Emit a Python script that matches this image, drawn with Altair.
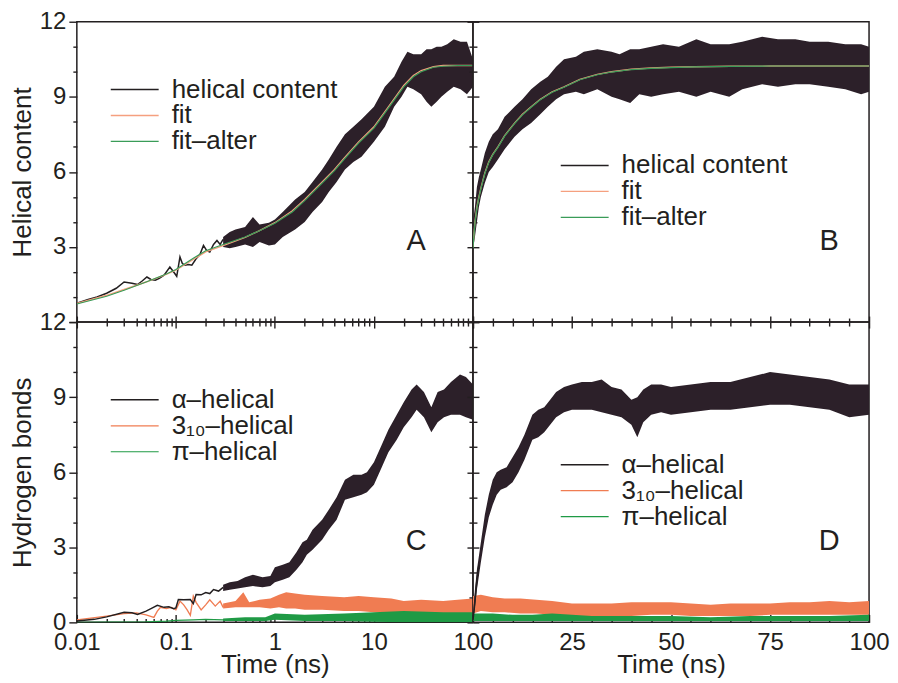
import altair as alt
import pandas as pd

# ---------------- data ----------------
# Panel A (log time) : helical content
A_line_t = [0.01, 0.013, 0.016, 0.02, 0.025, 0.03, 0.036, 0.041, 0.046, 0.051, 0.056, 0.062, 0.068,
            0.076, 0.087, 0.095, 0.102, 0.11, 0.116, 0.123, 0.135, 0.145, 0.16, 0.175, 0.19, 0.205,
            0.22, 0.24, 0.26, 0.28, 0.3]
A_line_v = [0.75, 0.9, 1.0, 1.15, 1.35, 1.6, 1.55, 1.5, 1.65, 1.8, 1.7, 1.67, 1.75,
            1.87, 2.2, 2.0, 1.83, 2.6, 2.35, 2.27, 2.3, 2.27, 2.53, 2.7, 3.06, 2.85,
            2.8, 3.1, 3.26, 3.1, 3.3]
A_band_t = [0.3, 0.35, 0.4, 0.5, 0.6, 0.7, 0.87, 1.0, 1.2, 1.6, 2.0, 2.4, 3.0, 3.5, 4.2, 5.1, 6.2,
            7.5, 10, 12.9, 16, 19, 21.8, 25, 30, 34, 38, 43, 48, 55, 64, 75, 87, 100]
A_band_lo = [3.0, 2.95, 3.0, 3.1, 3.0, 3.2, 3.06, 3.1, 3.4, 3.7, 4.0, 4.4, 4.8, 5.2, 5.6, 6.1, 6.4,
             6.6, 7.2, 7.8, 8.6, 9.0, 9.4, 9.3, 9.1, 8.8, 8.6, 8.8, 9.0, 9.2, 9.4, 9.3, 9.1, 9.4]
A_band_hi = [3.4, 3.6, 3.7, 3.8, 4.2, 3.9, 3.97, 4.1, 4.4, 4.9, 5.2, 5.6, 6.1, 6.5, 7.0, 7.5, 7.8,
             8.1, 8.6, 9.4, 9.8, 10.4, 10.8, 10.7, 10.7, 10.9, 10.9, 11.0, 11.0, 11.1, 11.3, 11.2, 11.2, 10.5]
A_fit_t = [0.01, 0.02, 0.03, 0.05, 0.08, 0.1, 0.15, 0.2, 0.3, 0.5, 0.7, 1, 1.5, 2, 3, 4, 5, 7, 10,
           14, 20, 25, 30, 40, 50, 70, 100]
A_fit = [0.75, 1.07, 1.3, 1.6, 1.9, 2.07, 2.5, 2.8, 3.05, 3.38, 3.65, 3.97, 4.45, 4.9, 5.6, 6.1, 6.55,
         7.2, 7.8, 8.6, 9.45, 9.85, 10.05, 10.2, 10.25, 10.25, 10.25]
A_fit_alter = [0.72, 1.03, 1.27, 1.6, 1.92, 2.1, 2.55, 2.85, 3.1, 3.4, 3.65, 3.95, 4.4, 4.85, 5.55,
               6.05, 6.5, 7.15, 7.75, 8.55, 9.4, 9.8, 10.0, 10.18, 10.22, 10.25, 10.25]

# Panel B (linear time) : helical content
B_band_t = [0, 0.5, 1, 1.5, 2, 3, 4, 5, 6.3, 8, 10.5, 12.5, 14.7, 17, 18.9, 21, 23, 26, 28, 31.4, 35,
            37, 39.7, 42, 45, 48, 52, 56.4, 60, 64.7, 68, 73, 77, 81.4, 85, 89.7, 94, 98, 100]
B_band_lo = [2.9, 3.4, 4.0, 4.6, 5.0, 5.56, 6.0, 6.2, 6.5, 6.9, 7.4, 7.7, 7.95, 8.3, 8.6, 8.9, 9.1,
             9.2, 9.1, 9.3, 9.0, 8.9, 8.75, 9.1, 9.0, 9.1, 9.2, 9.0, 9.2, 9.0, 9.3, 9.5, 9.4, 9.5,
             9.5, 9.4, 9.3, 9.1, 9.2]
B_band_hi = [4.0, 4.6, 5.4, 5.8, 6.1, 6.75, 7.2, 7.5, 7.7, 8.2, 8.6, 8.9, 9.3, 9.6, 9.8, 10.2, 10.5,
             10.6, 10.8, 10.9, 10.8, 10.7, 10.9, 10.9, 11.0, 11.1, 11.0, 11.3, 11.1, 11.1, 11.2, 11.4,
             11.3, 11.3, 11.2, 11.2, 11.1, 11.1, 11.0]
B_fit_t = [0, 0.25, 0.5, 1, 1.5, 2, 3, 4, 5, 6.3, 8, 10.5, 12.5, 14.7, 17, 20, 23, 27, 31.4, 35, 40,
           45, 50, 56, 65, 75, 100]
B_fit = [3.0, 3.5, 4.0, 4.6, 5.0, 5.35, 5.96, 6.4, 6.7, 7.0, 7.45, 7.95, 8.3, 8.6, 8.9, 9.2, 9.4,
         9.7, 9.9, 10.0, 10.1, 10.15, 10.18, 10.2, 10.22, 10.23, 10.23]
B_fit_alter = [2.95, 3.45, 3.95, 4.55, 4.97, 5.32, 5.93, 6.38, 6.68, 6.98, 7.43, 7.93, 8.28, 8.58,
               8.88, 9.18, 9.38, 9.68, 9.88, 9.99, 10.09, 10.14, 10.17, 10.2, 10.22, 10.23, 10.23]

# Panel C (log time) : hydrogen bonds
C_a_line_t = [0.01, 0.015, 0.02, 0.03, 0.036, 0.041, 0.05, 0.058, 0.065, 0.076, 0.085, 0.095, 0.1,
              0.106, 0.12, 0.14, 0.15, 0.16, 0.18, 0.2, 0.22, 0.24, 0.27, 0.3]
C_a_line_v = [0.05, 0.12, 0.22, 0.4, 0.38, 0.32, 0.45, 0.58, 0.68, 0.6, 0.62, 0.55, 0.58,
              0.91, 0.9, 0.91, 0.75, 1.11, 1.1, 1.19, 1.15, 1.31, 1.25, 1.4]
C_a_band_t = [0.3, 0.35, 0.42, 0.5, 0.6, 0.75, 0.9, 1.0, 1.2, 1.4, 1.65, 1.9, 2.1, 2.4, 3.0, 3.5, 4.2,
              5.1, 6.2, 7.5, 8.5, 10, 12, 14, 17, 20, 24, 27, 32, 38, 44, 51, 60, 74, 85, 100]
C_a_band_lo = [1.25, 1.3, 1.35, 1.4, 1.45, 1.4, 1.45, 1.6, 1.7, 1.8, 2.1, 2.4, 2.7, 2.9, 3.3, 3.7, 4.1,
               4.9, 5.0, 5.1, 5.2, 5.5, 6.2, 6.8, 7.3, 7.8, 8.2, 8.5, 8.2, 7.6, 8.0, 8.2, 8.3, 8.3, 8.2, 8.1]
C_a_band_hi = [1.5, 1.6, 1.65, 1.8, 1.9, 1.8, 1.85, 2.2, 2.3, 2.4, 2.8, 3.2, 3.3, 3.7, 4.1, 4.5, 5.0,
               5.7, 5.9, 5.9, 6.0, 6.4, 7.1, 7.7, 8.3, 8.8, 9.3, 9.5, 9.2, 8.6, 9.2, 9.3, 9.6, 9.9, 9.8, 9.5]
C_310_line_t = [0.01, 0.02, 0.03, 0.04, 0.05, 0.06, 0.065, 0.07, 0.08, 0.09, 0.1, 0.11, 0.12, 0.13,
                0.14, 0.15, 0.16, 0.18, 0.2, 0.22, 0.25, 0.28, 0.3]
C_310_line_v = [0.1, 0.25, 0.35, 0.38, 0.3, 0.2, 0.45, 0.6, 0.55, 0.6, 0.5, 0.85, 0.7, 0.5,
                0.28, 1.05, 0.8, 0.5, 0.7, 0.9, 0.65, 0.85, 0.6]
C_310_band_t = [0.3, 0.4, 0.48, 0.55, 0.7, 0.9, 1.1, 1.3, 1.6, 2, 3, 5, 7, 10, 15, 20, 30, 50, 70, 100]
C_310_band_lo = [0.55, 0.6, 0.6, 0.6, 0.6, 0.55, 0.6, 0.55, 0.55, 0.5, 0.5, 0.45, 0.45, 0.4, 0.35,
                 0.3, 0.3, 0.3, 0.3, 0.3]
C_310_band_hi = [0.75, 0.85, 1.2, 0.8, 0.9, 0.95, 1.1, 1.2, 1.15, 1.1, 1.05, 1.0, 1.05, 1.0, 0.95,
                 0.85, 0.9, 0.85, 0.9, 0.95]
C_pi_line_t = [0.01, 0.05, 0.08, 0.1, 0.15, 0.2, 0.3]
C_pi_line_v = [0.0, 0.02, 0.05, 0.08, 0.1, 0.12, 0.1]
C_pi_band_t = [0.3, 0.5, 0.8, 1, 2, 5, 10, 20, 50, 100]
C_pi_band_lo = [0.05, 0.05, 0.05, 0.1, 0.05, 0.05, 0.02, 0.0, 0.0, 0.0]
C_pi_band_hi = [0.15, 0.2, 0.2, 0.35, 0.3, 0.35, 0.4, 0.45, 0.4, 0.4]

# Panel D (linear time) : hydrogen bonds
D_a_line_t = [0, 0.3, 0.6, 1.0, 1.5]
D_a_line_v = [0.08, 0.5, 1.0, 1.7, 2.3]
D_a_band_t = [0, 0.5, 1, 2, 3, 4, 5, 6, 7, 8.5, 10, 11.5, 13, 14, 15, 16.5, 18, 19.5, 21, 23, 25, 27.5,
              30, 32.5, 35, 37.5, 40, 41.5, 43, 45, 47.5, 50, 55, 60, 65, 70, 75, 80, 85, 90, 95, 100]
D_a_band_lo = [0.05, 0.6, 1.3, 2.4, 3.4, 4.2, 4.7, 5.1, 5.3, 5.4, 5.6, 6.0, 6.5, 6.9, 7.3, 7.4, 7.6,
               7.9, 8.2, 8.4, 8.5, 8.5, 8.5, 8.4, 8.3, 8.2, 7.9, 7.4, 8.0, 8.3, 8.4, 8.3, 8.4, 8.5,
               8.5, 8.6, 8.7, 8.7, 8.6, 8.5, 8.2, 8.3]
D_a_band_hi = [0.3, 1.3, 2.1, 3.2, 4.3, 5.1, 5.7, 6.0, 6.1, 6.2, 6.6, 7.0, 7.5, 7.9, 8.3, 8.5, 8.6,
               8.9, 9.2, 9.4, 9.5, 9.6, 9.6, 9.7, 9.4, 9.3, 8.9, 9.0, 9.3, 9.5, 9.5, 9.4, 9.5, 9.6,
               9.6, 9.8, 10.0, 9.9, 9.8, 9.7, 9.5, 9.5]
D_310_band_t = [0, 2, 5, 8, 12, 16, 20, 25, 30, 35, 40, 45, 50, 55, 60, 65, 70, 75, 80, 85, 90, 95, 100]
D_310_band_lo = [0.35, 0.45, 0.4, 0.4, 0.35, 0.35, 0.3, 0.25, 0.25, 0.25, 0.25, 0.3, 0.3, 0.25, 0.25,
                 0.25, 0.25, 0.3, 0.3, 0.3, 0.3, 0.3, 0.3]
D_310_band_hi = [1.05, 1.1, 1.0, 0.95, 0.95, 0.9, 0.85, 0.75, 0.75, 0.75, 0.8, 0.8, 0.8, 0.75, 0.7,
                 0.75, 0.75, 0.75, 0.8, 0.8, 0.85, 0.8, 0.85]
D_pi_band_t = [0, 5, 10, 15, 20, 30, 40, 50, 60, 70, 80, 90, 100]
D_pi_band_lo = [0.05, 0.05, 0.05, 0.05, 0.05, 0.05, 0.05, 0.05, 0.05, 0.05, 0.05, 0.05, 0.05]
D_pi_band_hi = [0.35, 0.35, 0.3, 0.3, 0.35, 0.25, 0.25, 0.25, 0.2, 0.25, 0.25, 0.25, 0.3]

HC_SERIES = ["helical content", "fit", "fit\u2013alter"]
HB_SERIES = ["\u03b1\u2013helical", "3\u2081\u2080\u2013helical", "\u03c0\u2013helical"]

LOG_TICKS = [0.01, 0.02, 0.03, 0.04, 0.05, 0.06, 0.07, 0.08, 0.09,
             0.1, 0.2, 0.3, 0.4, 0.5, 0.6, 0.7, 0.8, 0.9,
             1, 2, 3, 4, 5, 6, 7, 8, 9,
             10, 20, 30, 40, 50, 60, 70, 80, 90, 100]
LIN_TICKS = [0, 5, 10, 15, 20, 25, 30, 35, 40, 45, 50, 55, 60, 65, 70, 75, 80, 85, 90, 95, 100]
Y_TICKS = [0, 1, 2, 3, 4, 5, 6, 7, 8, 9, 10, 11, 12]

# ---------------- styling ----------------
FONT = "Liberation Sans"
INK = "#231f20"
BAND_DARK = "#2c2029"
ORANGE = "#f07c52"
GREEN = "#1f9a45"
FIT_ORANGE = "#f5a07f"
FIT_GREEN = "#3a9c58"

LOG_MAJOR = "indexof([0.01,0.1,1,10,100], datum.value) >= 0"
LIN_MAJOR = "datum.value % 25 == 0"
Y_MAJOR = "datum.value % 3 == 0"

YS = alt.Scale(domain=[0, 12], nice=False, zero=False)
XS_LOG = alt.Scale(type="log", domain=[0.01, 100], nice=False)
XS_LIN = alt.Scale(domain=[0, 100], nice=False, zero=False)


def tsize(test, major, minor):
    return {"condition": {"test": test, "value": major}, "value": minor}


def make_axis(orient, values, test, major, minor, labels=False, label_expr=None,
              title=None, label_pad=3, fmt=None, title_pad=4):
    kw = dict(orient=orient, values=values, domain=False, grid=False,
              tickSize=tsize(test, major, minor), tickColor=INK, tickWidth=1.4,
              labels=labels, title=title)
    if labels:
        kw.update(labelExpr=label_expr, labelFont=FONT, labelFontSize=24, labelColor=INK,
                  labelFlush=False, labelOverlap=False, labelPadding=label_pad)
        if fmt:
            kw["format"] = fmt
    if title:
        kw.update(titleFont=FONT, titleFontSize=26, titleFontWeight="normal",
                  titleColor=INK, titlePadding=title_pad)
    return alt.Axis(**kw)


def band(t, lo, hi, color, xs, xaxis=None, yaxis=None):
    df = pd.DataFrame({"t": t, "lo": lo, "hi": hi})
    return alt.Chart(df).mark_area(color=color, opacity=1, clip=True).encode(
        x=alt.X("t:Q", scale=xs, axis=xaxis),
        y=alt.Y("lo:Q", scale=YS, axis=yaxis),
        y2="hi:Q",
    )


def lines(parts, domain, rng, widths, xs, legend_xy, xaxis=None, yaxis=None):
    rows = []
    for name, t, v in parts:
        for a, b in zip(t, v):
            rows.append({"t": a, "v": b, "series": name})
    df = pd.DataFrame(rows)
    leg = alt.Legend(orient="none", legendX=legend_xy[0], legendY=legend_xy[1], title=None,
                     symbolType="M-2,0H2", symbolSize=576, symbolStrokeWidth=1.8,
                     labelFont=FONT, labelFontSize=26, labelColor=INK, labelOffset=24,
                     rowPadding=0, padding=0, labelLimit=400)
    return alt.Chart(df).mark_line(clip=True).encode(
        x=alt.X("t:Q", scale=xs, axis=xaxis),
        y=alt.Y("v:Q", scale=YS, axis=yaxis),
        color=alt.Color("series:N", scale=alt.Scale(domain=domain, range=rng), legend=leg),
        strokeWidth=alt.StrokeWidth("series:N", scale=alt.Scale(domain=domain, range=widths),
                                    legend=None),
        detail="series:N",
    )


def letter(ch, xy):
    return alt.Chart(pd.DataFrame({"lab": [ch]})).mark_text(
        font=FONT, fontSize=29, color=INK, align="center", baseline="middle"
    ).encode(text="lab:N", x=alt.value(xy[0]), y=alt.value(xy[1]))


W_A, W_B, H = 397, 397, 301

# ---------------- Panel A ----------------
A_x_bottom = make_axis("bottom", LOG_TICKS, LOG_MAJOR, 6, 4)
A_y_left = make_axis("left", Y_TICKS, Y_MAJOR, 8, 4, labels=True,
                     label_expr="datum.value % 3 == 0 && datum.value > 0 ? datum.label : ''",
                     title="Helical content")
A_y_right = make_axis("right", Y_TICKS, Y_MAJOR, 6, 4)
panel_A = alt.layer(
    band(A_band_t, A_band_lo, A_band_hi, BAND_DARK, XS_LOG, A_x_bottom, A_y_left),
    lines([(HC_SERIES[0], A_line_t, A_line_v), (HC_SERIES[1], A_fit_t, A_fit),
           (HC_SERIES[2], A_fit_t, A_fit_alter)],
          HC_SERIES, [INK, FIT_ORANGE, FIT_GREEN], [1.5, 1.2, 1.2], XS_LOG, (45, 55),
          None, A_y_right),
    letter("A", (340, 220)),
).resolve_axis(x="independent", y="independent").properties(width=W_A, height=H)

# ---------------- Panel B ----------------
B_x_bottom = make_axis("bottom", LIN_TICKS, LIN_MAJOR, 6, 4)
B_y_left = make_axis("left", Y_TICKS, Y_MAJOR, 6, 4)
panel_B = alt.layer(
    band(B_band_t, B_band_lo, B_band_hi, BAND_DARK, XS_LIN, B_x_bottom, B_y_left),
    lines([(HC_SERIES[1], B_fit_t, B_fit), (HC_SERIES[2], B_fit_t, B_fit_alter)],
          HC_SERIES, [INK, FIT_ORANGE, FIT_GREEN], [1.5, 1.2, 1.2], XS_LIN, (99, 131)),
    letter("B", (357, 220)),
).resolve_axis(x="independent", y="independent").properties(width=W_B, height=H)

# ---------------- Panel C ----------------
C_x_bottom = make_axis("bottom", LOG_TICKS, LOG_MAJOR, -8, -4, labels=True,
                       label_expr=LOG_MAJOR + " ? datum.label : ''", fmt="~g",
                       title="Time (ns)", label_pad=16, title_pad=-7)
C_y_left = make_axis("left", Y_TICKS, Y_MAJOR, 8, 4, labels=True,
                     label_expr="datum.value % 3 == 0 ? datum.label : ''",
                     title="Hydrogen bonds")
C_x_top = make_axis("top", LOG_TICKS, LOG_MAJOR, 6, 4)
C_y_right = make_axis("right", Y_TICKS, Y_MAJOR, 6, 4)
panel_C = alt.layer(
    band(C_310_band_t, C_310_band_lo, C_310_band_hi, ORANGE, XS_LOG, C_x_bottom, C_y_left),
    band(C_pi_band_t, C_pi_band_lo, C_pi_band_hi, GREEN, XS_LOG),
    band(C_a_band_t, C_a_band_lo, C_a_band_hi, BAND_DARK, XS_LOG),
    lines([(HB_SERIES[1], C_310_line_t, C_310_line_v), (HB_SERIES[2], C_pi_line_t, C_pi_line_v),
           (HB_SERIES[0], C_a_line_t, C_a_line_v)],
          HB_SERIES, [INK, ORANGE, GREEN], [1.5, 1.2, 1.2], XS_LOG, (45, 65),
          C_x_top, C_y_right),
    letter("C", (340, 219)),
).resolve_axis(x="independent", y="independent").properties(width=W_A, height=H)

# ---------------- Panel D ----------------
D_x_bottom = make_axis("bottom", LIN_TICKS, LIN_MAJOR, -8, -4, labels=True,
                       label_expr="datum.value % 25 == 0 && datum.value > 0 ? datum.label : ''",
                       title="Time (ns)", label_pad=16, title_pad=-7)
D_y_left = make_axis("left", Y_TICKS, Y_MAJOR, 6, 4)
D_x_top = make_axis("top", LIN_TICKS, LIN_MAJOR, 6, 4)
panel_D = alt.layer(
    band(D_310_band_t, D_310_band_lo, D_310_band_hi, ORANGE, XS_LIN, D_x_bottom, D_y_left),
    band(D_pi_band_t, D_pi_band_lo, D_pi_band_hi, GREEN, XS_LIN),
    band(D_a_band_t, D_a_band_lo, D_a_band_hi, BAND_DARK, XS_LIN),
    lines([(HB_SERIES[0], D_a_line_t, D_a_line_v)],
          HB_SERIES, [INK, ORANGE, GREEN], [1.5, 1.2, 1.2], XS_LIN, (99, 130),
          D_x_top, None),
    letter("D", (357, 219)),
).resolve_axis(x="independent", y="independent").properties(width=W_B, height=H)

chart = alt.concat(panel_A, panel_B, panel_C, panel_D, columns=2, spacing=0,
                   bounds="flush").resolve_scale(
    color="independent", strokeWidth="independent"
).properties(
    padding={"left": 0, "top": 0, "right": 0, "bottom": 0},
    background="white",
).configure_view(stroke=INK, strokeWidth=1.5)

chart.save("out.html", embed_options={"renderer": "svg", "actions": False})
